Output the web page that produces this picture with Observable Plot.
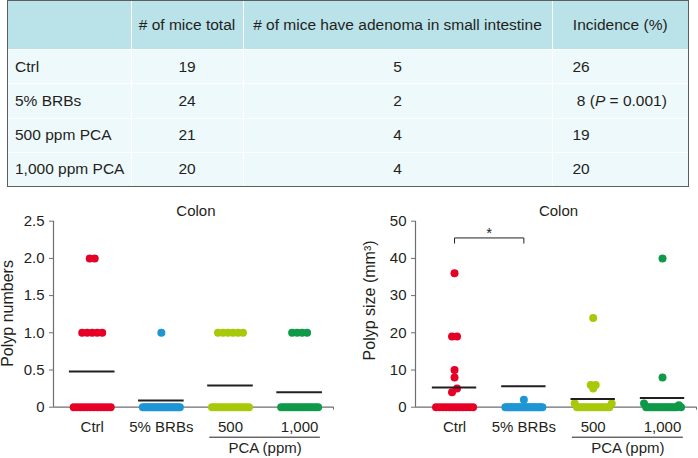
<!DOCTYPE html>
<html><head><meta charset="utf-8">
<script src="https://cdn.jsdelivr.net/npm/d3@7"></script>
<script src="https://cdn.jsdelivr.net/npm/@observablehq/plot@0.6"></script>
<style>
body{margin:0;background:#fff;font-family:"Liberation Sans",Arial,sans-serif;color:#231f20;}
#wrap{position:relative;width:698px;height:458px;overflow:hidden;background:#fff}
#tbl{position:absolute;left:7px;top:0;width:682px;height:187px;border:1.5px solid #5e5e5e;box-sizing:border-box;background:#fff}
#tbl table{width:100%;height:100%;border-collapse:collapse;border-style:hidden;table-layout:fixed;font-size:15.5px;color:#231f20}
#tbl td,#tbl th{border:1.5px solid #fff;padding:0;font-weight:normal;vertical-align:middle;white-space:nowrap}
#tbl th{background:#bae2e9;text-align:center;height:48px}
#tbl td{background:#eef9fc;height:33px}
#tbl td.c0{text-align:left;padding-left:7px}
#tbl td.c1,#tbl td.c2{text-align:center}
#tbl td.c3{text-align:left;padding-left:20px}
.chart{position:absolute;top:195px}
.chart svg [aria-label^="x-axis"] path,.chart svg [aria-label^="y-axis"] path,
.chart svg [aria-label^="x-axis"] line,.chart svg [aria-label^="y-axis"] line{stroke:#6d6e71}
</style>
</head><body>
<div id="wrap">
  <div id="tbl"></div>
  <div id="left" class="chart" style="left:0px"></div>
  <div id="right" class="chart" style="left:348px"></div>
</div>
<script>
// ---------- table data ----------
const tableHeaders = ["", "# of mice total", "# of mice have adenoma in small intestine", "Incidence (%)"];
const rowLabels = ["Ctrl", "5% BRBs", "500 ppm PCA", "1,000 ppm PCA"];
const miceTotal = [19, 24, 21, 20];
const miceAdenoma = [5, 2, 4, 4];
const incidence = [26, 8, 19, 20];
const incidenceP = ["", "0.001", "", ""];

// ---------- chart data ----------
const groups = ["Ctrl", "5% BRBs", "500", "1,000"];
const groupColors = ["#e60026", "#1e96d6", "#a8c90a", "#0e9a48"];

const numCtrl = [2, 2, 1, 1, 1, 1, 1, 0, 0, 0, 0, 0, 0, 0, 0, 0, 0, 0, 0];
const numBRB  = [1, 0, 0, 0, 0, 0, 0, 0, 0, 0, 0, 0, 0, 0, 0, 0, 0, 0, 0, 0, 0, 0, 0, 0];
const num500  = [1, 1, 1, 1, 1, 1, 0, 0, 0, 0, 0, 0, 0, 0, 0, 0, 0, 0, 0, 0, 0];
const num1000 = [1, 1, 1, 1, 0, 0, 0, 0, 0, 0, 0, 0, 0, 0, 0, 0, 0, 0, 0, 0];
const meanNumbers = [0.48, 0.09, 0.29, 0.20];

const sizeCtrl = [36, 19, 19, 10, 8, 4, 5, 0, 0, 0, 0, 0, 0, 0, 0, 0, 0, 0, 0];
const sizeBRB  = [2, 0, 0, 0, 0, 0, 0, 0, 0, 0, 0, 0, 0, 0, 0, 0, 0, 0, 0, 0, 0, 0, 0, 0];
const size500  = [24, 6, 6, 5, 1, 0, 0, 0, 0, 0, 0, 0, 0, 0, 0, 0, 0, 0, 0, 0, 1];
const size1000 = [40, 8, 1, 0, 0, 0, 0, 0, 0, 0, 0, 0, 0, 0, 0, 0, 0, 0, 0.5, 0];
const meanSizes = [5.3, 5.6, 2.2, 2.5];

const numTicks = [0, 0.5, 1, 1.5, 2, 2.5];
const sizeTicks = [0, 10, 20, 30, 40, 50];
const pcaBracket = [{x1: 1.7, x2: 3.3, label: "PCA (ppm)", xl: 2.5}];
const sigBracket = [{x: 0, y: 44.1}, {x: 0, y: 45.5}, {x: 1, y: 45.5}, {x: 1, y: 44.1}];
const sigStar = [{x: 0.5, y: 45.5, t: "*"}];

// ---------- table ----------
(function buildTable(){
  const t = document.createElement("table");
  const cg = document.createElement("colgroup");
  [123, 112, 309, null].forEach(w => { const c = document.createElement("col"); if (w) c.style.width = w + "px"; cg.appendChild(c); });
  t.appendChild(cg);
  const hr = document.createElement("tr");
  tableHeaders.forEach(h => { const th = document.createElement("th"); th.textContent = h; hr.appendChild(th); });
  t.appendChild(hr);
  rowLabels.forEach((r, i) => {
    const tr = document.createElement("tr");
    const cells = [r, String(miceTotal[i]), String(miceAdenoma[i])];
    cells.forEach((c, j) => { const td = document.createElement("td"); td.className = "c" + j; td.textContent = c; tr.appendChild(td); });
    const td = document.createElement("td"); td.className = "c3";
    if (incidenceP[i]) {
      td.innerHTML = "&nbsp;" + incidence[i] + " (<i>P</i> = " + incidenceP[i] + ")";
    } else td.textContent = String(incidence[i]);
    tr.appendChild(td);
    t.appendChild(tr);
  });
  document.getElementById("tbl").appendChild(t);
})();

// ---------- charts ----------
const axisGray = "#6d6e71";
const ink = "#231f20";

function buildPoints(series, binSize, stepPx) {
  const pts = [];
  series.forEach((vals, gi) => {
    const bins = new Map();
    vals.forEach(v => {
      const k = Math.floor(v / binSize);
      if (!bins.has(k)) bins.set(k, []);
      bins.get(k).push(v);
    });
    for (const arr of bins.values()) {
      const n = arr.length;
      const sp = n > 1 ? Math.min(5, 37 / (n - 1)) : 0;
      arr.forEach((v, i) => {
        const off = (i - (n - 1) / 2) * sp;
        pts.push({group: groups[gi], x: gi + off / stepPx, y: v});
      });
    }
  });
  return pts;
}

function makeChart(o) {
  const stepPx = (o.width - o.ml - o.mr) / (o.xDomain[1] - o.xDomain[0]);
  const pts = buildPoints(o.series, o.binSize, stepPx);
  const means = o.means.map((m, i) => ({i, m}));
  const xTicks = [0, 1, 2, 3, o.xDomain[1]];
  return Plot.plot({
    width: o.width, height: o.height,
    marginLeft: o.ml, marginRight: o.mr, marginTop: o.mt, marginBottom: o.mb,
    style: {fontFamily: '"Liberation Sans", Arial, sans-serif', fontSize: "15px", color: ink, background: "transparent", overflow: "visible"},
    x: {type: "linear", domain: o.xDomain, ticks: xTicks, tickFormat: d => Number.isInteger(d) ? groups[d] : "", tickSize: 3, tickPadding: 11, label: null},
    y: {domain: o.yDomain, ticks: o.yTicks, tickFormat: o.yFmt, tickSize: 4, tickPadding: 5, label: null},
    color: {domain: groups, range: groupColors},
    marks: [
      Plot.ruleY([0], {x1: () => o.xDomain[0], x2: () => o.xDomain[1], stroke: axisGray, strokeWidth: 1.2}),
      Plot.ruleX([o.xDomain[0]], {y1: () => o.yDomain[0], y2: () => o.yDomain[1], stroke: axisGray, strokeWidth: 1.2}),
      Plot.dot(pts, {x: "x", y: "y", r: 4, fill: "group", stroke: null}),
      Plot.ruleY(means, {x1: d => d.i - o.meanHalf, x2: d => d.i + o.meanHalf, y: "m", stroke: ink, strokeWidth: 2}),
      Plot.text(["Colon"], {x: () => 1.5, y: () => o.yDomain[1], dy: -10, fontSize: 15, fill: ink}),
      Plot.text([o.yLabel], {x: () => o.xDomain[0], y: () => o.yMid, rotate: -90, dx: -45.5, fontSize: 16, fill: ink}),
      Plot.ruleY(pcaBracket, {x1: "x1", x2: "x2", y: () => 0, dy: 30, stroke: ink, strokeWidth: 1}),
      Plot.text(pcaBracket, {x: "xl", y: () => 0, text: "label", dy: 41, fontSize: 15, fill: ink}),
      ...(o.extra || [])
    ]
  });
}

document.getElementById("left").appendChild(makeChart({
  width: 345, height: 263, ml: 53, mr: 12, mt: 25.7, mb: 51.3,
  xDomain: [-0.56, 3.49], yDomain: [0, 2.5], yTicks: numTicks,
  yFmt: d => d === 0 ? "0" : d.toFixed(1), yLabel: "Polyp numbers", yMid: 1.26,
  series: [numCtrl, numBRB, num500, num1000], means: meanNumbers, binSize: 0.5, meanHalf: 0.33
}));

document.getElementById("right").appendChild(makeChart({
  width: 350, height: 263, ml: 67, mr: 2, mt: 25.7, mb: 51.3,
  xDomain: [-0.563, 3.49], yDomain: [0, 50], yTicks: sizeTicks,
  yFmt: d => String(d), yLabel: "Polyp size (mm³)", yMid: 28.7,
  series: [sizeCtrl, sizeBRB, size500, size1000], means: meanSizes, binSize: 2, meanHalf: 0.32,
  extra: [
    Plot.line(sigBracket, {x: "x", y: "y", stroke: ink, strokeWidth: 1}),
    Plot.text(sigStar, {x: "x", y: "y", text: "t", dy: -5, fontSize: 15, fill: ink})
  ]
}));
</script>
</body></html>
